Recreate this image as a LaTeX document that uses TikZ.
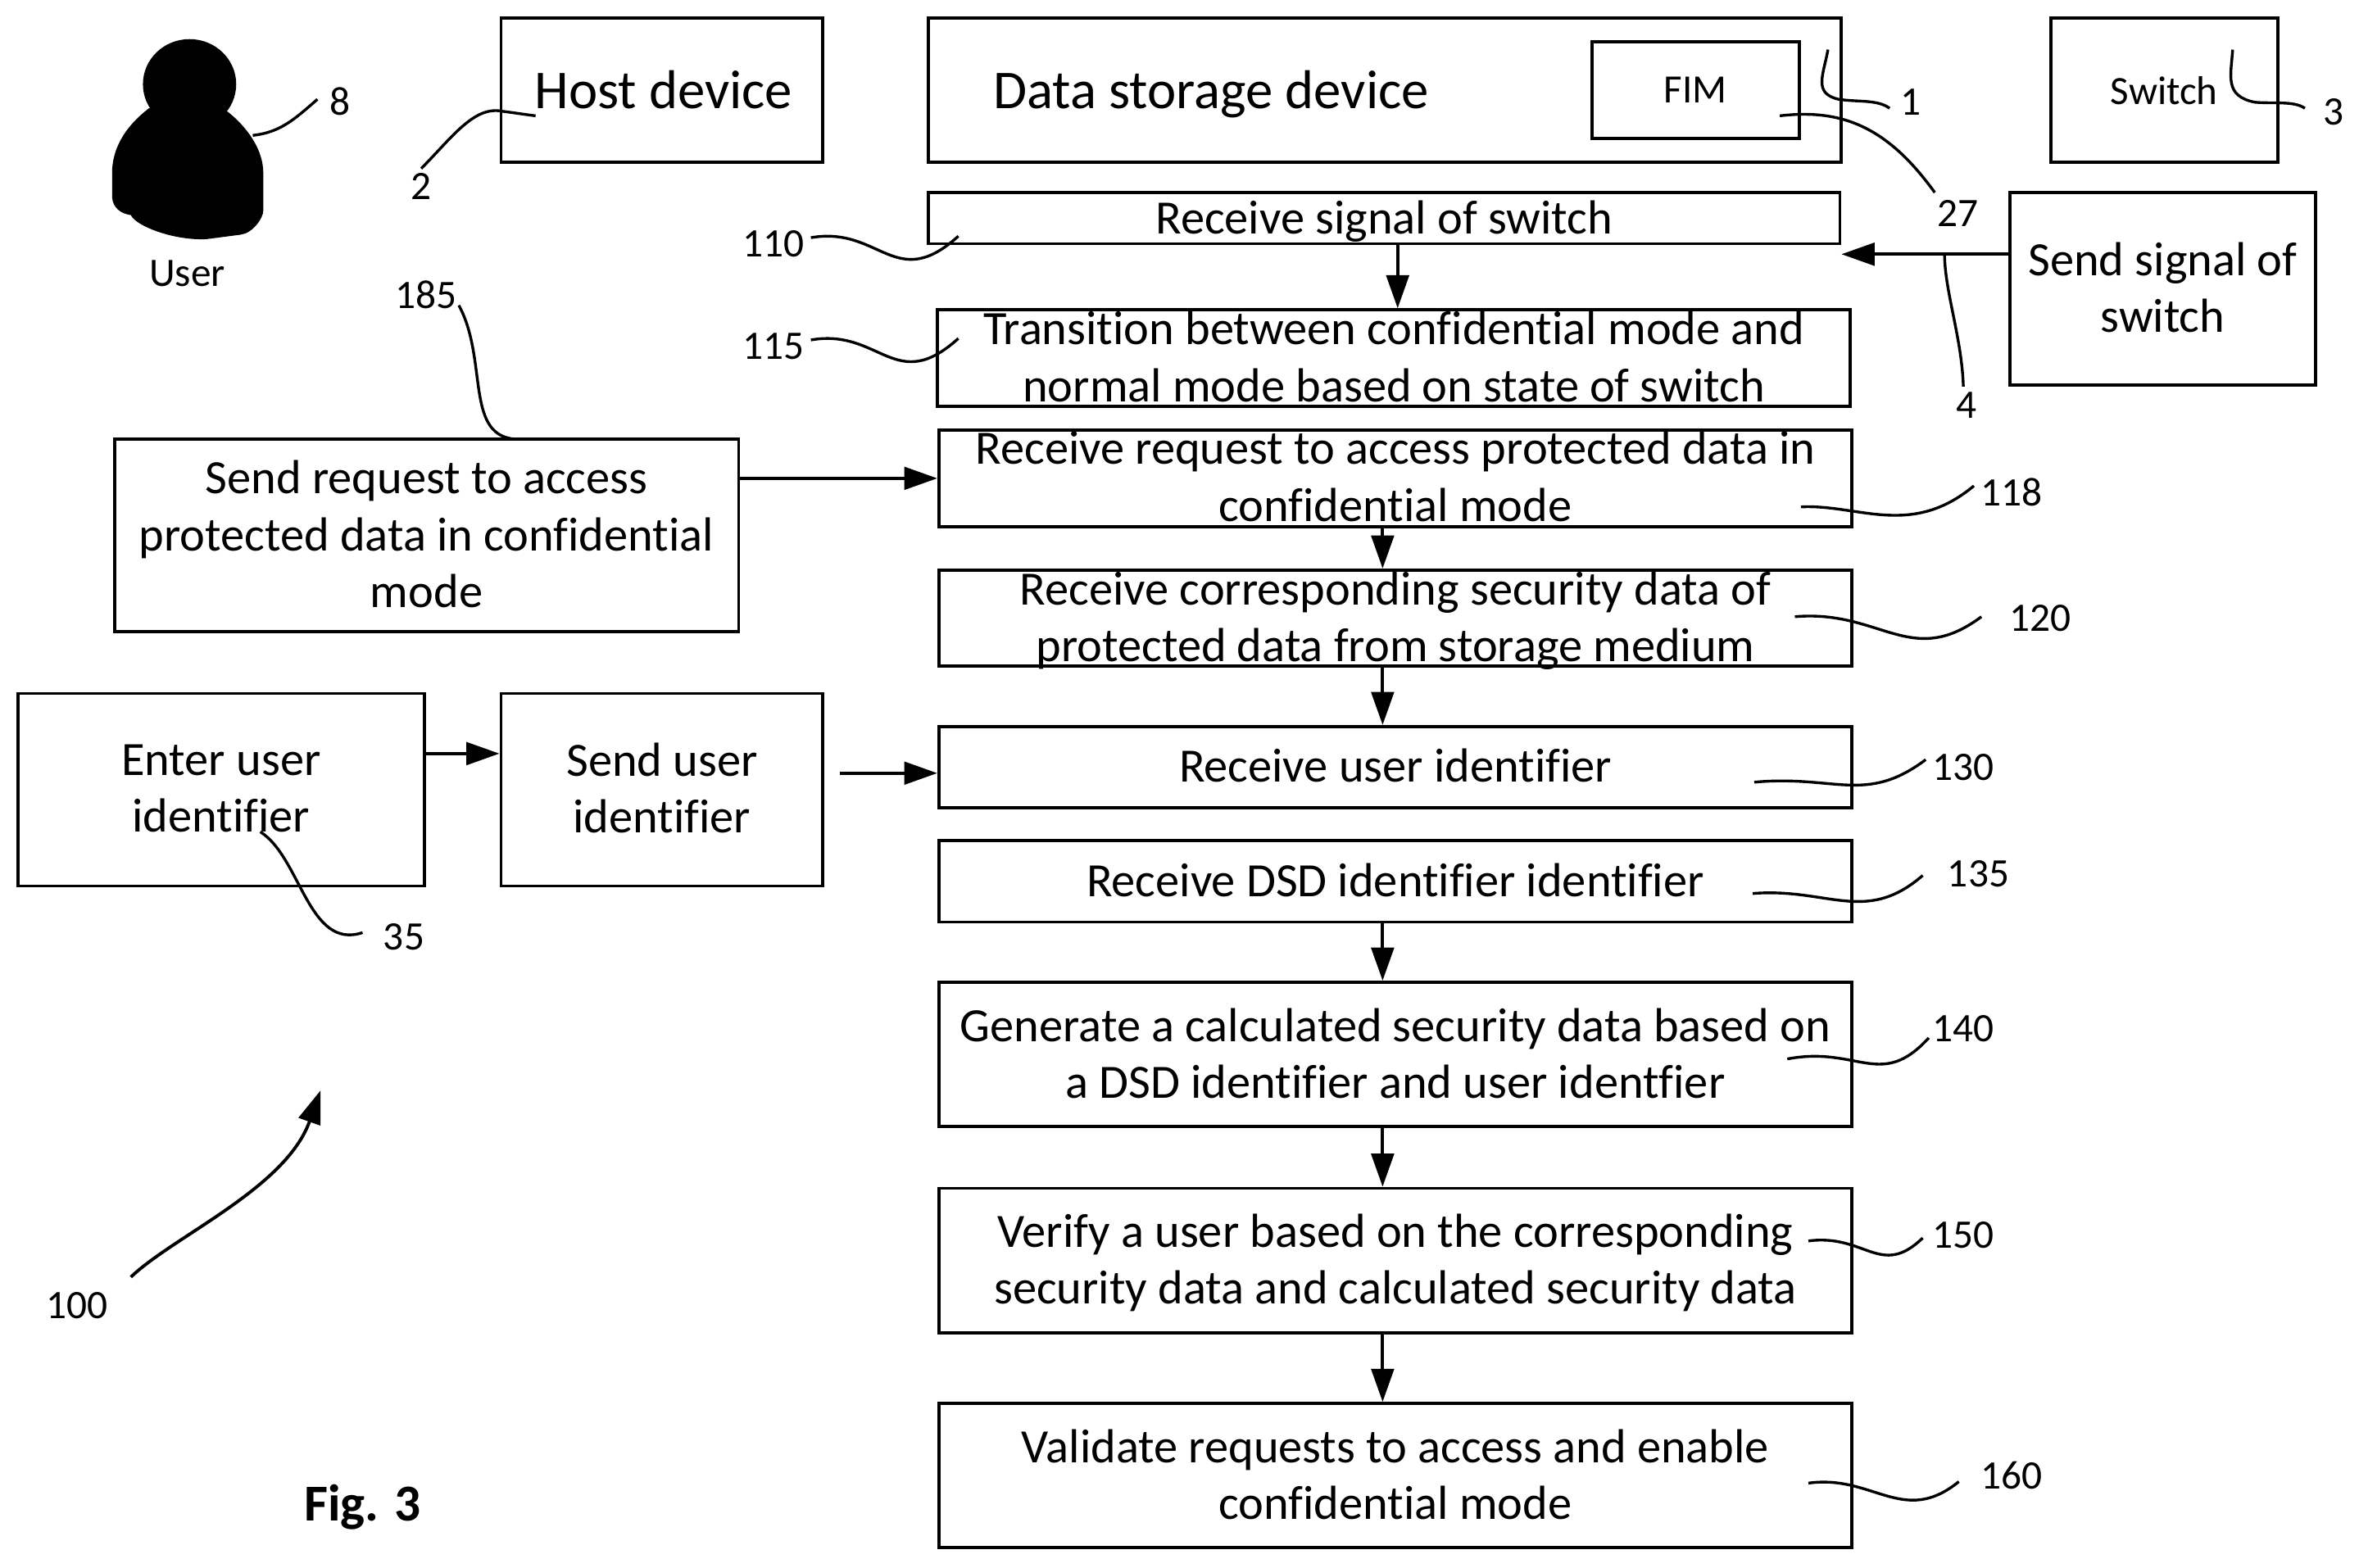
\documentclass[tikz,border=0pt]{standalone}
\usepackage{fontspec}
\setmainfont[Ligatures=CommonOff]{Carlito}
\usetikzlibrary{arrows.meta}
\tikzset{
  flowbox/.style={draw=black,line width=1.2pt,inner sep=0pt,fill=none},
  flowtext/.style={inner sep=0pt,align=center,font=\fontsize{18.1}{21.5}\selectfont,execute at begin node=\strut,execute at end node=\strut},
  bigtext/.style={inner sep=0pt,align=center,yshift=-0.8mm,font=\fontsize{20.7}{24}\selectfont,execute at begin node=\strut,execute at end node=\strut},
  smalltext/.style={inner sep=0pt,align=center,font=\fontsize{15.2}{18}\selectfont},
  reflabel/.style={inner sep=0pt,font=\fontsize{15.3}{18}\selectfont},
  figlabel/.style={inner sep=0pt,font=\fontsize{19.6}{24}\selectfont\bfseries},
  flowarrow/.style={draw=black,line width=1.2pt,-{Triangle[length=4.4mm,width=3mm]}},
  leader/.style={draw=black,line width=1.05pt}
}
\newcommand{\bx}[7][-0.95mm]{%
  \node[flowbox,minimum width={(#5-#3)*0.2mm},minimum height={(#6-#4)*0.2mm}] (#2) at ({(#3+#5)/2},{(#4+#6)/2}) {};
  \node[flowtext,yshift=#1] (#2t) at (#2) {#7};}
\newcommand{\lead}[5]{%
  \coordinate (#1a) at (#2);
  \coordinate (#1b) at (#5);
  \draw[leader] (#1a) .. controls (#3) and (#4) .. (#1b);}
\begin{document}
\begin{tikzpicture}[x=0.02cm,y=-0.02cm]
\useasboundingbox (0,0) rectangle (1568,1041.9);

% user silhouette
\fill[black] (126,56) ellipse [x radius=31,y radius=30];
\fill[black] (99,72) .. controls (82,85) and (74.5,100) .. (74.5,115) -- (74.5,131)
  .. controls (75,138) and (80,142) .. (87,143)
  .. controls (90,150) and (115,160) .. (137,159) -- (160,156)
  .. controls (168,155) and (175,145) .. (175,140) -- (175,115)
  .. controls (175,100) and (165,85) .. (151,74) -- cycle;
\node[reflabel] (userlabel) at (124.5,182) {User};

% top row
\node[flowbox,minimum width={214*0.2mm},minimum height={96*0.2mm}] (host) at (440,60) {};
\node[bigtext] (hostt) at (441,60) {Host device};
\node[flowbox,minimum width={607*0.2mm},minimum height={96*0.2mm}] (dsd) at (920.5,60) {};
\node[bigtext] (dsdt) at (805,60) {Data storage device};
\node[flowbox,minimum width={138*0.2mm},minimum height={64*0.2mm}] (fim) at (1127,60) {};
\node[smalltext] (fimt) at (fim) {FIM};
\node[flowbox,minimum width={151*0.2mm},minimum height={96*0.2mm}] (switch) at (1438.5,60) {};
\node[smalltext] (switcht) at (switch) {Switch};

% flow boxes
\bx{sendsig}{1336}{128}{1539}{256}{Send signal of\\switch}
\bx[-0.6mm]{b110}{617}{128}{1223}{162}{Receive signal of switch}
\bx{b115}{623}{206}{1230}{270}{Transition between confidential mode and\\normal mode based on state of switch}
\bx[-0.85mm]{b118}{624}{286}{1231}{350}{Receive request to access protected data in\\confidential mode}
\bx{b120}{624}{379}{1231}{443}{Receive corresponding security data of\\protected data from storage medium}
\bx[-0.5mm]{b130}{624}{483}{1231}{537}{Receive user identifier}
\bx[-0.55mm]{b135}{624}{559}{1231}{613}{Receive DSD identifier identifier}
\bx{b140}{624}{653}{1231}{749}{Generate a calculated security data based on\\a DSD identifier and user identfier}
\bx{b150}{624}{790}{1231}{886}{Verify a user based on the corresponding\\security data and calculated security data}
\bx{b160}{624}{933}{1231}{1029}{Validate requests to access and enable\\confidential mode}
\bx{sendreq}{76}{292}{491}{420}{Send request to access\\protected data in confidential\\mode}
\bx{enter}{12}{461}{282}{589}{Enter user\\identifier}
\bx[-0.9mm]{senduid}{333}{461}{547}{589}{Send user\\identifier}

% arrows
\coordinate (sigend) at (1224,169);
\draw[flowarrow] (sendsig.west |- sigend) -- (sigend);
\draw[flowarrow] (b110.south -| 929,0) -- (b115.north -| 929,0);
\draw[flowarrow] (sendreq.east |- 0,318) -- (b118.west |- 0,318);
\draw[flowarrow] (b118.south -| 919,0) -- (b120.north -| 919,0);
\draw[flowarrow] (b120.south -| 919,0) -- (b130.north -| 919,0);
\draw[flowarrow] (b135.south -| 919,0) -- (b140.north -| 919,0);
\draw[flowarrow] (b140.south -| 919,0) -- (b150.north -| 919,0);
\draw[flowarrow] (b150.south -| 919,0) -- (b160.north -| 919,0);
\draw[flowarrow] (enter.east |- 0,501) -- (senduid.west |- 0,501);
\coordinate (uidstart) at (558,514);
\draw[flowarrow] (uidstart) -- (b130.west |- uidstart);

% reference labels
\node[reflabel] (r8) at (226,67.5) {8};
\node[reflabel] (r2) at (280,124) {2};
\node[reflabel] (r1) at (1270,68) {1};
\node[reflabel] (r3) at (1551,74.5) {3};
\node[reflabel] (r27) at (1301.5,142) {27};
\node[reflabel] (r4) at (1307,269.5) {4};
\node[reflabel] (r110) at (514,162) {110};
\node[reflabel] (r115) at (514,230) {115};
\node[reflabel] (r185) at (283,196) {185};
\node[reflabel] (r118) at (1337,327) {118};
\node[reflabel] (r120) at (1356,411) {120};
\node[reflabel] (r130) at (1305,510) {130};
\node[reflabel] (r135) at (1315,581) {135};
\node[reflabel] (r140) at (1305,684) {140};
\node[reflabel] (r150) at (1305,821) {150};
\node[reflabel] (r160) at (1337,981) {160};
\node[reflabel] (r35) at (268.5,623) {35};
\node[reflabel] (r100) at (51,868) {100};
\node[figlabel] (figt) at (241,1002) {Fig. 3};

% leaders
\lead{l8}{168,90}{186,88}{195,80}{211,66}
\coordinate (l2a) at (280,112);
\coordinate (l2b) at (356,77);
\draw[leader] (l2a) .. controls (300,92) and (315,70) .. (334,74) .. controls (342,75) and (348,76) .. (l2b);
\coordinate (l1a) at (1215,33);
\coordinate (l1b) at (1256,72);
\draw[leader] (l1a) .. controls (1212,50) and (1205,62) .. (1222,66) .. controls (1235,68) and (1248,66) .. (l1b);
\coordinate (l3a) at (1484,33);
\coordinate (l3b) at (1532,72);
\draw[leader] (l3a) .. controls (1483,50) and (1478,64) .. (1499,68) .. controls (1512,69) and (1525,67) .. (l3b);
\lead{l27}{1183,77}{1225,72}{1255,85}{1286,128}
\lead{l4}{1292.5,170}{1293,195}{1304,225}{1305,257}
\lead{l110}{539,158}{585,150}{595,195}{637,157}
\lead{l115}{539,226}{585,218}{595,263}{637,225}
\lead{l185}{305,203}{325,240}{308,292}{345,292}
\lead{l118}{1197,337}{1235,335}{1270,358}{1312,323}
\lead{l120}{1193,410}{1250,405}{1270,445}{1317,410}
\lead{l130}{1166,520}{1220,515}{1240,535}{1280,505}
\lead{l135}{1165,594}{1215,590}{1240,615}{1278,582}
\lead{l140}{1188,704}{1235,695}{1250,725}{1282,690}
\lead{l150}{1202,825}{1240,820}{1250,850}{1278,823}
\lead{l160}{1202,986}{1245,980}{1265,1015}{1302,985}
\lead{l35}{173,553}{200,570}{205,632}{241,620}
\coordinate (a100a) at (87,849);
\coordinate (a100b) at (213,725);
\draw[flowarrow] (a100a) .. controls (115,822) and (190,790) .. (a100b);
\end{tikzpicture}
\end{document}
